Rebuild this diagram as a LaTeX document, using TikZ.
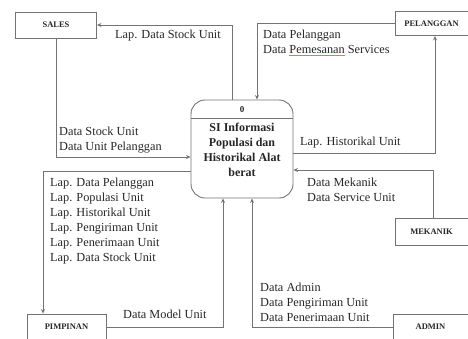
\documentclass[tikz,border=0pt]{standalone}
\usepackage{fontspec}
\setmainfont{Liberation Serif}
\usetikzlibrary{arrows.meta}
\begin{document}
\begin{tikzpicture}[x=1pt,y=-1pt,
  ln/.style={draw=black!55,line width=0.9pt},
  arr/.style={ln,-{Stealth[length=4.5pt,width=4pt]}},
  ent/.style={ln,rectangle,inner sep=0pt,font=\fontsize{8.5}{10}\selectfont\bfseries,text=black!85},
  proc/.style={ln,rectangle,rounded corners=14pt,inner sep=0pt,minimum width=102pt,minimum height=98pt},
  lbl/.style={anchor=north west,align=left,inner sep=0pt,font=\fontsize{12.3}{15}\selectfont,text=black!85}]
\useasboundingbox (0,0) rectangle (468,338);
% entities
\node[ent,minimum width=81pt,minimum height=26pt] (S) at (56,25) {SALES};
\node[ent,minimum width=73pt,minimum height=24pt] (PL) at (431.5,23.5) {PELANGGAN};
\node[ent,minimum width=73pt,minimum height=27pt] (MK) at (431.5,231.5) {MEKANIK};
\node[ent,minimum width=75pt,minimum height=26pt] (AD) at (430.5,327) {ADMIN};
\node[ent,minimum width=79pt,minimum height=26pt] (PM) at (66.5,327) {PIMPINAN};
% process
\node[proc] (P) at (242,149) {};
\node[inner sep=0pt,font=\fontsize{9}{10}\selectfont\bfseries,text=black!85] (P0) at (242,110) {0};
\draw[ln] (P.west |- 0,118) -- (P.east |- 0,118);
\node[anchor=north,align=center,inner sep=0pt,font=\fontsize{12}{15}\selectfont\bfseries,text=black!85] (PT) at (242,123)
  {SI Informasi\\Populasi dan\\Historikal Alat\\berat};
% connectors
\draw[arr] (P.north -| 232,0) |- (S.east);
\draw[arr] (PL.west) -| (P.north -| 257,0);
\draw[arr] (S.south) |- (P.west |- 0,157);
\draw[arr] (P.west |- 0,171) -| (PM.north -| 43,0);
\draw[arr] (PM.east) -| (P.south -| 223,0);
\draw[arr] (P.east |- 0,153) -| (PL.south -| 435,0);
\draw[arr] (MK.north -| 433,0) |- (P.east |- 0,170);
\draw[arr] (AD.west) -| (P.south -| 252,0);
% labels
\node[lbl] (l1) at (115,30) {Lap. Data Stock Unit};
\node[lbl] (l2) at (263,30) {Data Pelanggan\\Data {\color{red!60}\underline{\color{black!85}Pemesanan}} Services};
\node[lbl] (l3) at (59,127) {Data Stock Unit\\Data Unit Pelanggan};
\node[lbl] (l4) at (50,178) {Lap. Data Pelanggan\\Lap. Populasi Unit\\Lap. Historikal Unit\\Lap. Pengiriman Unit\\Lap. Penerimaan Unit\\Lap. Data Stock Unit};
\node[lbl] (l5) at (123,310) {Data Model Unit};
\node[lbl] (l6) at (300,137) {Lap. Historikal Unit};
\node[lbl] (l7) at (307,178) {Data Mekanik\\Data Service Unit};
\node[lbl] (l8) at (260,283) {Data Admin\\Data Pengiriman Unit\\Data Penerimaan Unit};
\end{tikzpicture}
\end{document}
